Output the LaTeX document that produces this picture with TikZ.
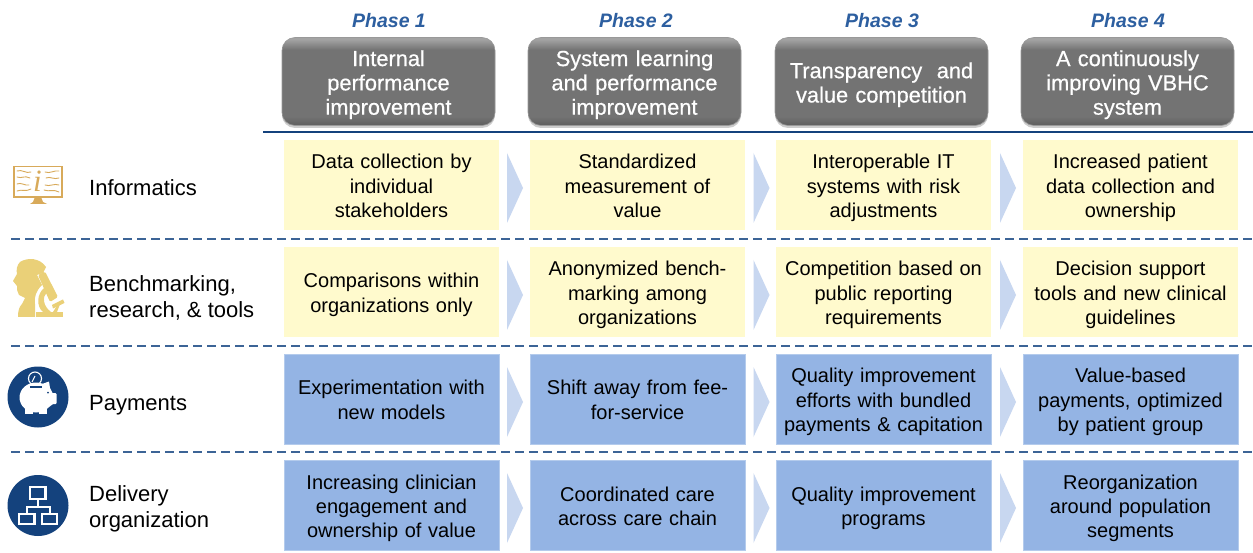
\documentclass[tikz,border=0pt]{standalone}
\usepackage{fontspec}
\setmainfont{Liberation Sans}
\newfontfamily\hdrfont[FakeBold=0.6]{Liberation Sans}
\newfontfamily\iconserif{Liberation Serif}
\usetikzlibrary{shadows,calc}
\definecolor{navy}{RGB}{20,66,125}
\definecolor{dashblue}{RGB}{60,100,150}
\definecolor{phaseblue}{RGB}{45,95,160}
\definecolor{yelbox}{RGB}{255,250,205}
\definecolor{bluebox}{RGB}{148,180,228}
\definecolor{chev}{RGB}{200,215,240}
\definecolor{goldline}{RGB}{216,170,90}
\definecolor{goldfill}{RGB}{234,208,120}
\pgfdeclareverticalshading{hdrshade}{100bp}{
 color(0bp)=(black!62); color(26bp)=(black!62); color(30bp)=(black!55);
 color(68bp)=(black!55); color(74bp)=(black!36); color(100bp)=(black!36)}
\tikzset{
 x=1pt,y=-1pt,
 body/.style={font=\fontsize{20}{24.3}\selectfont,text=black,align=center},
 phase/.style={font=\fontsize{19.5}{24}\selectfont\bfseries\itshape,text=phaseblue,anchor=center},
 hdr/.style={rounded corners=13pt,minimum width=213pt,minimum height=88pt,inner sep=0pt,
   shading=hdrshade,draw=black!40,line width=.6pt,
   drop shadow={shadow xshift=0pt,shadow yshift=-2.5pt,opacity=.4},
   text=white,align=center,text width=205pt,font=\fontsize{21.8}{24.3}\selectfont\hdrfont,
   execute at begin node=\rule{0pt}{25pt},execute at end node=\strut},
 cell/.style={body,minimum width=215pt,minimum height=90pt,inner sep=0pt,text width=205pt,
   execute at begin node=\rule{0pt}{23.5pt},execute at end node=\strut},
 ycell/.style={cell,fill=yelbox},
 bcell/.style={cell,fill=bluebox,draw=bluebox!70!white,line width=.6pt},
 chevron/.style={fill=chev,draw=none},
 rowlab/.style={font=\fontsize{22}{26}\selectfont,text=black,anchor=west,align=left,inner sep=0pt,
   execute at begin node=\strut,execute at end node=\strut},
 sep/.style={dashblue,line width=1.4pt,dash pattern=on 8.5pt off 5.5pt},
 rule/.style={navy,line width=2.2pt},
 iconline/.style={goldline,line width=.9pt,line cap=round},
}
\newcommand{\hdrbox}[3]{\node[hdr] (#1) at (#2,81.5) {#3};}
\begin{document}
\begin{tikzpicture}
\useasboundingbox (0,0) rectangle (1253,553);
\fill[white] (0,0) rectangle (1253,553);
% phases
\node[phase] (p1) at (389,20.5) {Phase 1};
\node[phase] (p2) at (636,20.5) {Phase 2};
\node[phase] (p3) at (882,20.5) {Phase 3};
\node[phase] (p4) at (1128,20.5) {Phase 4};
% headers
\hdrbox{h1}{388.5}{Internal\\performance\\improvement}
\hdrbox{h2}{634.5}{System learning\\and performance\\improvement}
\hdrbox{h3}{881.5}{Transparency\ \ and\\value competition}
\hdrbox{h4}{1127.5}{A continuously\\improving VBHC\\system}
% rules
\coordinate (r0a) at (263,132); \coordinate (r0b) at (1253,132);
\draw[rule] (r0a) -- (r0b);
\coordinate (s1a) at (11,239); \coordinate (s1b) at (1253,239);
\coordinate (s2a) at (11,346); \coordinate (s2b) at (1253,346);
\coordinate (s3a) at (11,452); \coordinate (s3b) at (1253,452);
\draw[sep] (s1a) -- (s1b);
\draw[sep] (s2a) -- (s2b);
\draw[sep] (s3a) -- (s3b);
% row 1
\node[ycell] (a1) at (391.5,185) {Data collection by\\individual\\stakeholders};
\node[ycell] (a2) at (637.5,185) {Standardized\\measurement of\\value};
\node[ycell] (a3) at (883.5,185) {Interoperable IT\\systems with risk\\adjustments};
\node[ycell] (a4) at (1130.5,185) {Increased patient\\data collection and\\ownership};
% row 2
\node[ycell] (b1) at (391.5,292) {Comparisons within\\organizations only};
\node[ycell] (b2) at (637.5,292) {Anonymized bench-\\marking among\\organizations};
\node[ycell] (b3) at (883.5,292) {Competition based on\\public reporting\\requirements};
\node[ycell] (b4) at (1130.5,292) {Decision support\\tools and new clinical\\guidelines};
% row 3
\node[bcell] (c1) at (391.5,399) {Experimentation with\\new models};
\node[bcell] (c2) at (637.5,399) {Shift away from fee-\\for-service};
\node[bcell] (c3) at (883.5,399) {Quality improvement\\efforts with bundled\\payments \& capitation};
\node[bcell] (c4) at (1130.5,399) {Value-based\\payments, optimized\\by patient group};
% row 4
\node[bcell] (d1) at (391.5,505.5) {Increasing clinician\\engagement and\\ownership of value};
\node[bcell] (d2) at (637.5,505.5) {Coordinated care\\across care chain};
\node[bcell] (d3) at (883.5,505.5) {Quality improvement\\programs};
\node[bcell] (d4) at (1130.5,505.5) {Reorganization\\around population\\segments};
% chevrons
\foreach \cx in {507,753.5,1000}{
 \foreach \cy in {188,295,402,508}{
  \fill[chevron] (\cx,\cy-35) -- (\cx+16,\cy) -- (\cx,\cy+35) -- cycle;
 }
}
% row labels
\node[rowlab] (l1) at (89,190) {Informatics};
\node[rowlab] (l2) at (89,300) {Benchmarking,\\research, \& tools};
\node[rowlab] (l3) at (89,405) {Payments};
\node[rowlab] (l4) at (89,510) {Delivery\\organization};
% icon: informatics monitor
\draw[goldline,line width=1.8pt,fill=white] (14,166.5) rectangle (62,197);
\fill[goldline] (35,197) -- (41,197) -- (43,202) -- (47,204) -- (30,204) -- (33,202) -- cycle;
\draw[iconline] (17,171) .. controls (22,169) and (26,174) .. (31,172);
\draw[iconline] (17,177) .. controls (22,179) and (24,175) .. (30,178);
\draw[iconline] (17,184) .. controls (21,182) and (25,186) .. (29,185);
\draw[iconline] (17,191) .. controls (22,189) and (26,192) .. (31,189);
\draw[iconline] (45,172) .. controls (50,174) and (54,170) .. (59,171);
\draw[iconline] (46,178) .. controls (50,176) and (54,180) .. (59,178);
\draw[iconline] (45,185) .. controls (50,187) and (54,183) .. (59,185);
\draw[iconline] (44,190) .. controls (49,192) and (54,189) .. (59,192);
\node[font=\fontsize{31}{31}\selectfont\iconserif\itshape,text=goldline,inner sep=0pt] (iinfo) at (37.5,181.5) {i};
% icon: head and microscope
\fill[goldfill] (20,262) .. controls (28,257) and (40,258) .. (46,267)
 -- (43,273) -- (37,275) -- (42,285) .. controls (36,291) and (34,297) .. (35,304)
 -- (35,317) -- (18,317) .. controls (18,311) and (19,307) .. (22,304)
 -- (25,298) -- (19,295) .. controls (17,292) and (17,289) .. (17,286)
 -- (13,281) -- (17,274) .. controls (16,270) and (17,265) .. (20,262) -- cycle;
\fill[goldfill,rounded corners=1.5pt] (38,275) -- (45,271.5) -- (58,297) -- (50,302) -- cycle;
\fill[goldfill] (44,288) .. controls (37,294) and (36,306) .. (43,312)
 -- (51,312) .. controls (43,306) and (42,297) .. (47,292) -- cycle;
\fill[goldfill] (36,312) rectangle (63,317);
\fill[goldfill] (52,305) -- (63,299.5) -- (64.5,303) -- (53,308.5) -- cycle;
\fill[goldfill] (53,312) -- (58,304) -- (60,304) -- (57,312) -- cycle;
% icon: piggy
\fill[navy] (38,397) circle (30.5);
\fill[white] (36,397.5) ellipse (16.5 and 15);
\fill[white] (42,384) -- (49,381.5) -- (50,388) -- (53,394) -- (53,404) -- (45,410) -- cycle;
\fill[white,rounded corners=1pt] (50,393) rectangle (56.5,404);
\fill[white] (25,407) rectangle (33,414);
\fill[white] (39,407) rectangle (47,414);
\fill[navy] (48,392.5) circle (1);
\fill[navy] (30,385.5) rectangle (42,387.5);
\draw[white,line width=1.1pt] (35,378.5) circle (6.5);
\draw[white,line width=.9pt] (32,382) -- (35,376);
% icon: org chart
\fill[navy] (38,505.5) circle (30.5);
\draw[white,line width=2.2pt] (30,487) rectangle (45.5,499);
\draw[white,line width=2.2pt] (19,514) rectangle (34.5,524);
\draw[white,line width=2.2pt] (42,514) rectangle (57,524);
\draw[white,line width=1.8pt] (38,499) -- (38,507) (27,514) -- (27,507) -- (50,507) -- (50,514);
\end{tikzpicture}
\end{document}
